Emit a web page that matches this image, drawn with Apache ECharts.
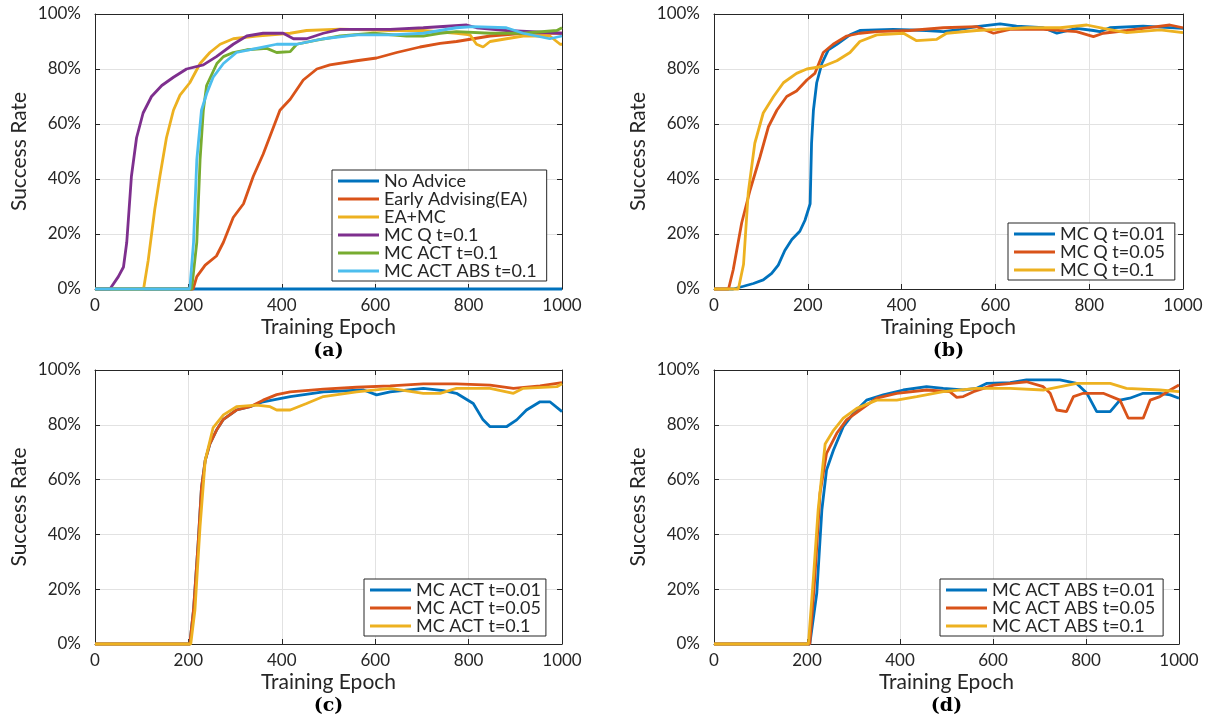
<!DOCTYPE html>
<html>
<head>
<meta charset="utf-8">
<script src="https://cdn.jsdelivr.net/npm/echarts@6/dist/echarts.min.js"></script>
<style>html,body{margin:0;padding:0;background:#fff}#c{width:1209px;height:724px}</style>
</head>
<body>
<div id="c"></div>
<script>
// ---- tick labels / axis texts ----
const xTicks = [0, 200, 400, 600, 800, 1000];
const yTicks = [0, 20, 40, 60, 80, 100];
const xName = 'Training Epoch';
const yName = 'Success Rate';
const panelLabels = ['(a)', '(b)', '(c)', '(d)'];

// ---- panel (a) : [epoch, success %] ----
const aNames = ['No Advice', 'Early Advising(EA)', 'EA+MC', 'MC Q t=0.1', 'MC ACT t=0.1', 'MC ACT ABS t=0.1'];
const aNoAdvice = [[0,0],[1000,0]];
const aEA = [[0,0],[210,0],[218,4.5],[236,8.7],[260,12],[275,17],[296,26],[318,31],[339,41],[360,49],[378,57],[396,65],[418,69],[446,76],[475,80],[503,81.5],[560,83],[603,84],[646,86],[696,88],[739,89.3],[774,90],[810,91],[846,92],[917,93],[1000,93]];
const aEAMC = [[0,0],[104,0],[114,10.5],[128,29],[139,41],[153,55],[168,65],[182,70.5],[203,75],[225,82],[246,86],[268,89],[296,91],[346,92],[418,93],[453,94],[525,94.5],[632,94],[703,94],[774,93],[803,92.4],[817,89],[831,88],[846,90],[881,91],[917,92],[974,92],[996,89],[1000,89]];
const aMCQ = [[0,0],[32,0],[50,4.5],[61,8],[68,17],[78,41],[89,55],[103,64],[121,70],[143,74],[168,77],[196,80],[232,81.5],[260,84.5],[296,89],[325,92],[360,93],[403,93],[425,91],[453,91],[489,93],[525,94.4],[632,94.4],[703,95],[796,96],[817,95],[881,94],[1000,93]];
const aMCACT = [[0,0],[207,0],[218,17],[225,47],[232,65],[239,74],[250,78],[261,82],[275,84.5],[296,86],[325,87],[368,87.5],[389,86],[418,86.3],[432,89],[475,90.5],[525,92],[596,93],[667,92],[703,92],[739,93],[774,93.6],[846,93],[917,93],[989,94],[1000,95]];
const aMCACTABS = [[0,0],[203,0],[211,17],[218,47],[228,65],[239,71],[253,77],[275,82],[303,86],[346,87.5],[389,89],[432,89],[489,91],[560,92.4],[632,92.4],[703,93],[774,95],[810,95.4],[881,95],[917,93],[974,91],[1000,92]];

// ---- panel (b) ----
const bNames = ['MC Q t=0.01', 'MC Q t=0.05', 'MC Q t=0.1'];
const bQ001 = [[0,0],[41,0],[63,1],[84,2],[105,3.3],[123,5.7],[137,8.7],[151,14],[166,18],[183,21],[194,25],[205,31],[208,53],[212,65],[219,75],[230,82],[244,87],[262,89],[290,92.4],[311,94],[382,94.4],[453,94],[489,93.6],[525,94.4],[560,95.4],[610,96.4],[645,95.6],[702,95],[731,93],[773,94.8],[809,94],[823,93.6],[844,95],[915,95.6],[1000,94.8]];
const bQ005 = [[0,0],[31,0],[41,7],[59,24],[77,36],[98,48],[116,59],[134,65],[155,70],[176,72],[198,76],[215,78.4],[233,86],[254,89],[283,92],[311,93],[347,93.6],[418,94],[489,95],[560,95.4],[596,93],[631,94.4],[702,94.4],[773,93.6],[809,91.8],[830,93],[880,94],[915,94.8],[972,96],[1000,95]];
const bQ01 = [[0,0],[52,0],[63,9],[73,35],[87,53],[105,64],[127,70],[148,75],[176,78.4],[198,80],[233,81],[262,83],[290,86],[311,90],[347,92.4],[404,93],[432,90.3],[475,90.8],[496,93],[560,94],[603,94.4],[667,95],[738,95],[795,96],[830,94.8],[880,93.2],[951,94.2],[1000,93.2]];

// ---- panel (c) ----
const cNames = ['MC ACT t=0.01', 'MC ACT t=0.05', 'MC ACT t=0.1'];
const cACT001 = [[0,0],[203,0],[211,12.4],[221,37],[228,57],[236,67],[246,73],[260,78],[275,82],[303,85.4],[332,86.6],[360,88.4],[418,90.3],[489,92],[575,92.7],[603,90.9],[632,92],[703,93.3],[746,92.5],[774,91.5],[810,87.8],[831,81.8],[846,79.3],[881,79.3],[903,81.8],[924,85.4],[953,88.4],[974,88.4],[1000,84.8]];
const cACT005 = [[0,0],[203,0],[211,12.4],[221,37],[228,57],[236,67],[246,73],[260,78],[275,82],[303,85.4],[332,86.6],[360,89],[389,91],[418,92],[489,93],[560,93.7],[632,94.2],[703,94.9],[774,94.9],[846,94.5],[896,93.3],[953,94.2],[1000,95.4]];
const cACT01 = [[0,0],[205,0],[214,12.4],[225,43],[236,67],[253,79],[275,83.6],[303,86.6],[346,87.2],[375,86.6],[389,85.4],[418,85.4],[453,87.8],[489,90.3],[560,92],[632,93.3],[703,91.5],[739,91.5],[774,93.3],[846,93.3],[896,91.5],[917,93.3],[989,93.9],[1000,95]];

// ---- panel (d) ----
const dNames = ['MC ACT ABS t=0.01', 'MC ACT ABS t=0.05', 'MC ACT ABS t=0.1'];
const dABS001 = [[0,0],[206,0],[221,18.5],[232,49],[242,63.5],[257,70.8],[278,79.3],[300,84.2],[328,89],[364,90.9],[407,92.7],[457,93.9],[493,93.3],[536,92.7],[565,93.3],[586,95.1],[637,95.4],[672,96.4],[744,96.4],[780,95.1],[802,91.5],[823,84.8],[852,84.8],[873,89],[894,89.7],[923,91.5],[959,91.5],[981,90.9],[1000,89.7]];
const dABS005 = [[0,0],[206,0],[217,24.6],[228,55],[242,69.6],[264,76.9],[285,81.8],[314,85.4],[350,89.7],[393,91.5],[457,92.7],[507,92.1],[522,90],[536,90.3],[558,92.1],[601,94.5],[672,95.7],[708,93.9],[723,91.5],[737,85.4],[758,84.8],[773,90.3],[794,91.5],[837,91.5],[873,89],[891,82.4],[923,82.4],[938,89],[959,90.3],[981,92.7],[1000,94.5]];
const dABS01 = [[0,0],[203,0],[214,24.6],[224,49],[239,73],[257,78],[278,82.4],[307,86],[350,89],[393,89],[436,90.3],[493,92.1],[565,93.3],[637,93.3],[708,92.7],[780,95.1],[852,95.1],[887,93.3],[959,92.7],[1000,92.1]];

// ---- styling / layout ----
const COLORS = ['#0072BD', '#D95319', '#EDB120', '#7E2F8E', '#77AC30', '#4DBEEE'];
const FONT = 'Lato, "Open Sans", sans-serif';
const AX = '#262626';
const GRIDS = [
  {left: 95, top: 14, width: 467, height: 275},
  {left: 714, top: 14, width: 469, height: 275},
  {left: 95, top: 370, width: 467, height: 274},
  {left: 714, top: 370, width: 465, height: 274}
];
const LEGPOS = [
  {left: 332, top: 170, padR: 10},
  {left: 1008, top: 223, padR: 10},
  {left: 364, top: 579, padR: 5},
  {left: 940, top: 579, padR: 8}
];
const panels = [
  {key: 'a', names: aNames, data: [aNoAdvice, aEA, aEAMC, aMCQ, aMCACT, aMCACTABS]},
  {key: 'b', names: bNames, data: [bQ001, bQ005, bQ01]},
  {key: 'c', names: cNames, data: [cACT001, cACT005, cACT01]},
  {key: 'd', names: dNames, data: [dABS001, dABS005, dABS01]}
];

const xAxes = [], yAxes = [], series = [], legends = [], graphics = [];
const tickCommon = {show: true, inside: true, length: 5, lineStyle: {color: AX, width: 1}};
panels.forEach((p, i) => {
  const xmin = xTicks[0], xmax = xTicks[xTicks.length - 1];
  const ymin = yTicks[0], ymax = yTicks[yTicks.length - 1];
  const xi = xTicks[1] - xTicks[0], yi = yTicks[1] - yTicks[0];
  xAxes.push({
    gridIndex: i, type: 'value', min: xmin, max: xmax, interval: xi, position: 'bottom',
    axisLine: {show: true, onZero: false, lineStyle: {color: AX, width: 1}},
    axisTick: tickCommon,
    axisLabel: {color: AX, fontSize: 17, fontFamily: FONT, margin: 8, formatter: v => String(v)},
    splitLine: {show: true, lineStyle: {color: '#e2e2e2', width: 1}},
    name: xName, nameLocation: 'middle', nameGap: 28,
    nameTextStyle: {color: AX, fontSize: 21, fontFamily: FONT}
  });
  xAxes.push({
    gridIndex: i, type: 'value', min: xmin, max: xmax, interval: xi, position: 'top',
    axisLine: {show: true, onZero: false, lineStyle: {color: AX, width: 1}},
    axisTick: tickCommon, axisLabel: {show: false}, splitLine: {show: false}
  });
  yAxes.push({
    gridIndex: i, type: 'value', min: ymin, max: ymax, interval: yi, position: 'left',
    axisLine: {show: true, onZero: false, lineStyle: {color: AX, width: 1}},
    axisTick: tickCommon,
    axisLabel: {color: AX, fontSize: 17, fontFamily: FONT, margin: 14, formatter: '{value}%'},
    splitLine: {show: true, lineStyle: {color: '#e2e2e2', width: 1}},
    name: yName, nameLocation: 'middle', nameGap: 65,
    nameTextStyle: {color: AX, fontSize: 21, fontFamily: FONT}
  });
  yAxes.push({
    gridIndex: i, type: 'value', min: ymin, max: ymax, interval: yi, position: 'right',
    axisLine: {show: true, onZero: false, lineStyle: {color: AX, width: 1}},
    axisTick: tickCommon, axisLabel: {show: false}, splitLine: {show: false}
  });
  const legendData = [];
  p.names.forEach((n, k) => {
    const sname = p.key + ':' + n;
    legendData.push(sname);
    series.push({
      type: 'line', name: sname, xAxisIndex: 2 * i, yAxisIndex: 2 * i,
      data: p.data[k], showSymbol: false, symbol: 'none', clip: false,
      lineStyle: {width: 2.8, color: COLORS[k]}, itemStyle: {color: COLORS[k]},
      animation: false
    });
  });
  legends.push({
    data: legendData, orient: 'vertical', left: LEGPOS[i].left, top: LEGPOS[i].top,
    icon: 'rect', itemWidth: 41, itemHeight: 3, itemGap: 0, itemTextGap: 7,
    padding: [2, LEGPOS[i].padR, 1, 6], borderColor: AX, borderWidth: 1, backgroundColor: '#fff',
    selectedMode: false, formatter: s => s.slice(2),
    textStyle: {color: AX, fontSize: 18, fontFamily: FONT, lineHeight: 18}
  });
  const g = GRIDS[i];
  graphics.push({
    type: 'text', x: g.left + g.width / 2, y: g.top + g.height + 62,
    style: {text: panelLabels[i], fill: '#000', font: 'bold 19px "DejaVu Serif", serif', textAlign: 'center', textVerticalAlign: 'middle'}
  });
});

const chart = echarts.init(document.getElementById('c'), null, {renderer: 'canvas'});
chart.setOption({
  backgroundColor: '#fff',
  animation: false,
  grid: GRIDS.map(g => Object.assign({containLabel: false}, g)),
  xAxis: xAxes, yAxis: yAxes, series: series, legend: legends,
  graphic: graphics
});
</script>
</body>
</html>
